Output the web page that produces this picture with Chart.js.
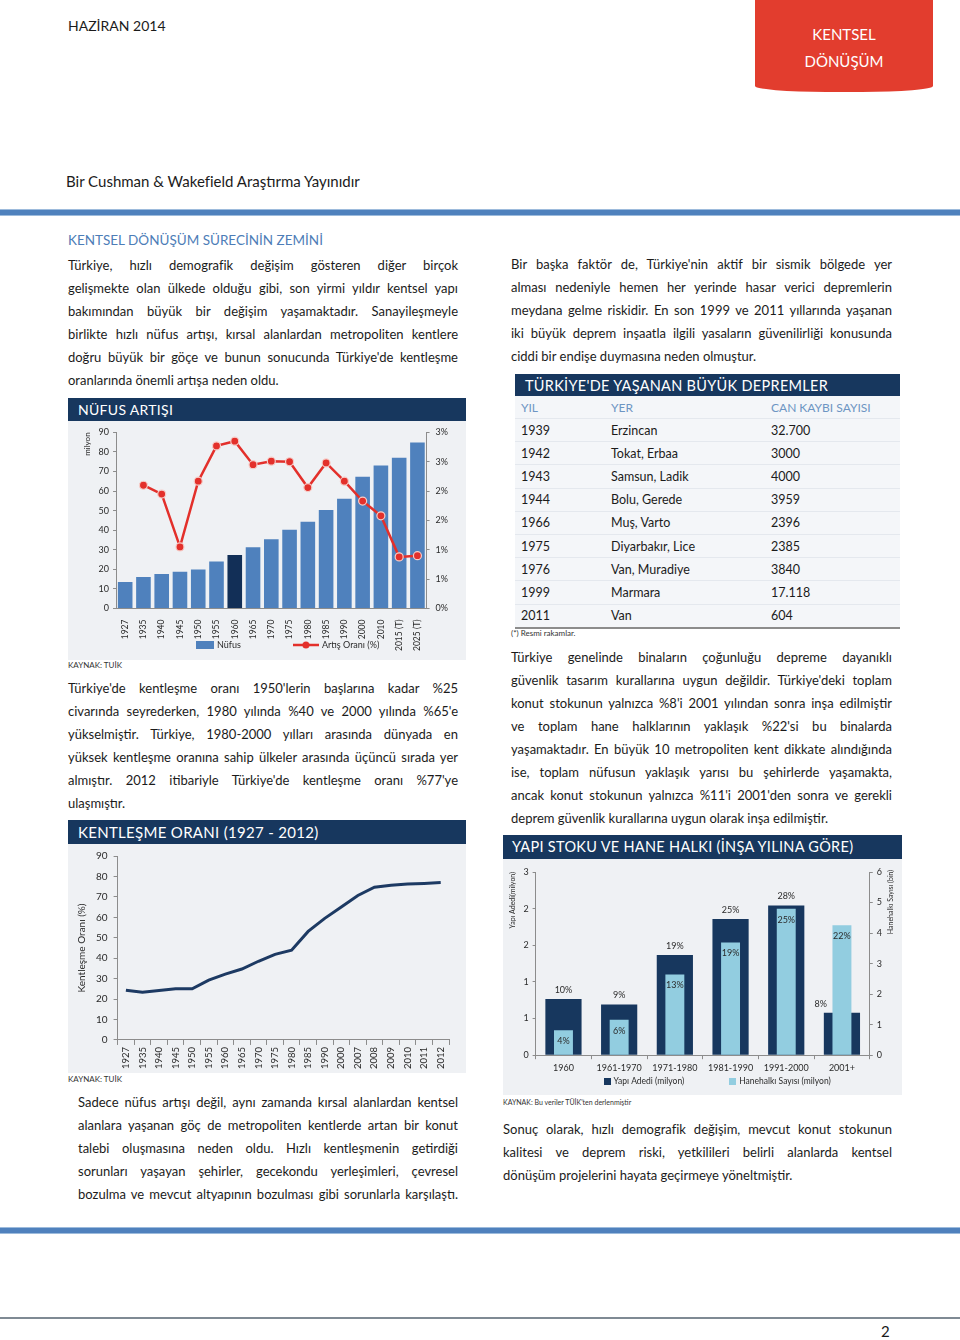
<!DOCTYPE html>
<html lang="tr">
<head>
<meta charset="utf-8">
<title>Kentsel Dönüşüm - Haziran 2014</title>
<script src="https://cdn.jsdelivr.net/npm/chart.js@4.4.1/dist/chart.umd.min.js"></script>
<style>
body { margin:0; width:960px; height:1340px; position:relative; background:#fff; font-family: Lato, 'Open Sans', sans-serif; color:#1b1b1b; overflow:hidden; }
.para { position:absolute; font-size:13px; }
.para div { height:23px; line-height:23px; text-align:justify; text-align-last:justify; }
.para div.last { text-align-last:left; }
.head-bar { position:absolute; background:#17375e; color:#fff; height:23px; line-height:24px; font-size:14px; padding-left:10px; box-sizing:border-box; letter-spacing:0.3px; }
.chart-box { position:absolute; background:#eff1f4; }
.chart-box canvas { display:block; }
.source { position:absolute; font-size:8px; color:#333; }
.rule { position:absolute; left:0; width:960px; height:5px; background:#4f81bd; border-top:1px solid #9dbbdc; border-bottom:1px solid #9dbbdc; }
table.quakes { position:absolute; left:515px; top:396px; width:385px; border-collapse:collapse; background:#f4f6f9; font-size:12.5px; border-bottom:2px solid #8c8c8c; }
table.quakes td { height:22.2px; padding:0 0 0 6px; border-top:1px solid #e4e8ee; }
table.quakes tr.th td { height:22px; color:#6d95c3; border-top:none; font-size:12px; }
</style>
</head>
<body>

<div style="position:absolute;left:68px;top:17px;font-size:14px;">HAZİRAN 2014</div>
<div style="position:absolute;left:755px;top:0;width:178px;height:92px;background:#e23d2e;color:#fff;font-size:15px;text-align:center;border-radius:0 0 40% 40% / 0 0 6px 6px;">
  <div style="margin-top:21px;line-height:27px;">KENTSEL<br>DÖNÜŞÜM</div>
</div>
<div style="position:absolute;left:66px;top:172px;font-size:15px;">Bir Cushman &amp; Wakefield Araştırma Yayınıdır</div>
<div class="rule" style="top:209px;"></div>

<div style="position:absolute;left:68px;top:232px;font-size:13.5px;color:#4d7db7;">KENTSEL DÖNÜŞÜM SÜRECİNİN ZEMİNİ</div>
<div class="para" style="left:68px;top:254px;width:390px;">
  <div>Türkiye, hızlı demografik değişim gösteren diğer birçok</div>
  <div>gelişmekte olan ülkede olduğu gibi, son yirmi yıldır kentsel yapı</div>
  <div>bakımından büyük bir değişim yaşamaktadır. Sanayileşmeyle</div>
  <div>birlikte hızlı nüfus artışı, kırsal alanlardan metropoliten kentlere</div>
  <div>doğru büyük bir göçe ve bunun sonucunda Türkiye'de kentleşme</div>
  <div class="last">oranlarında önemli artışa neden oldu.</div>
</div>

<div class="head-bar" style="left:68px;top:398px;width:398px;">NÜFUS ARTIŞI</div>
<div class="chart-box" style="left:68px;top:421px;width:398px;height:239px;"><canvas id="popChart" width="398" height="239"></canvas></div>
<div class="source" style="left:68px;top:660px;">KAYNAK: TUİK</div>

<div class="para" style="left:68px;top:677px;width:390px;">
  <div>Türkiye'de kentleşme oranı 1950'lerin başlarına kadar %25</div>
  <div>civarında seyrederken, 1980 yılında %40 ve 2000 yılında %65'e</div>
  <div>yükselmiştir. Türkiye, 1980-2000 yılları arasında dünyada en</div>
  <div>yüksek kentleşme oranına sahip ülkeler arasında üçüncü sırada yer</div>
  <div>almıştır. 2012 itibariyle Türkiye'de kentleşme oranı %77'ye</div>
  <div class="last">ulaşmıştır.</div>
</div>

<div class="head-bar" style="left:68px;top:820px;width:398px;height:24px;font-size:15px;">KENTLEŞME ORANI (1927 - 2012)</div>
<div class="chart-box" style="left:68px;top:844px;width:398px;height:229px;"><canvas id="urbanChart" width="398" height="229"></canvas></div>
<div class="source" style="left:68px;top:1074px;">KAYNAK: TUİK</div>

<div class="para" style="left:78px;top:1091px;width:380px;">
  <div>Sadece nüfus artışı değil, aynı zamanda kırsal alanlardan kentsel</div>
  <div>alanlara yaşanan göç de metropoliten kentlerde artan bir konut</div>
  <div>talebi oluşmasına neden oldu. Hızlı kentleşmenin getirdiği</div>
  <div>sorunları yaşayan şehirler, gecekondu yerleşimleri, çevresel</div>
  <div>bozulma ve mevcut altyapının bozulması gibi sorunlarla karşılaştı.</div>
</div>

<div class="para" style="left:511px;top:253px;width:381px;">
  <div>Bir başka faktör de, Türkiye'nin aktif bir sismik bölgede yer</div>
  <div>alması nedeniyle hemen her yerinde hasar verici depremlerin</div>
  <div>meydana gelme riskidir. En son 1999 ve 2011 yıllarında yaşanan</div>
  <div>iki büyük deprem inşaatla ilgili yasaların güvenilirliği konusunda</div>
  <div class="last">ciddi bir endişe duymasına neden olmuştur.</div>
</div>

<div class="head-bar" style="left:515px;top:374px;width:385px;height:22px;line-height:23px;font-size:14.5px;">TÜRKİYE'DE YAŞANAN BÜYÜK DEPREMLER</div>
<table class="quakes">
  <colgroup><col style="width:90px"><col style="width:160px"><col></colgroup>
  <tr class="th"><td>YIL</td><td>YER</td><td>CAN KAYBI SAYISI</td></tr>
  <tr><td>1939</td><td>Erzincan</td><td>32.700</td></tr>
  <tr><td>1942</td><td>Tokat, Erbaa</td><td>3000</td></tr>
  <tr><td>1943</td><td>Samsun, Ladik</td><td>4000</td></tr>
  <tr><td>1944</td><td>Bolu, Gerede</td><td>3959</td></tr>
  <tr><td>1966</td><td>Muş, Varto</td><td>2396</td></tr>
  <tr><td>1975</td><td>Diyarbakır, Lice</td><td>2385</td></tr>
  <tr><td>1976</td><td>Van, Muradiye</td><td>3840</td></tr>
  <tr><td>1999</td><td>Marmara</td><td>17.118</td></tr>
  <tr><td>2011</td><td>Van</td><td>604</td></tr>
</table>
<div class="source" style="left:511px;top:628px;">(*) Resmi rakamlar.</div>

<div class="para" style="left:511px;top:646px;width:381px;">
  <div>Türkiye genelinde binaların çoğunluğu depreme dayanıklı</div>
  <div>güvenlik tasarım kurallarına uygun değildir. Türkiye'deki toplam</div>
  <div>konut stokunun yalnızca %8'i 2001 yılından sonra inşa edilmiştir</div>
  <div>ve toplam hane halklarının yaklaşık %22'si bu binalarda</div>
  <div>yaşamaktadır. En büyük 10 metropoliten kent dikkate alındığında</div>
  <div>ise, toplam nüfusun yaklaşık yarısı bu şehirlerde yaşamakta,</div>
  <div>ancak konut stokunun yalnızca %11'i 2001'den sonra ve gerekli</div>
  <div class="last">deprem güvenlik kurallarına uygun olarak inşa edilmiştir.</div>
</div>

<div class="head-bar" style="left:503px;top:835px;width:399px;height:24px;font-size:14.5px;padding-left:9px;">YAPI STOKU VE HANE HALKI (İNŞA YILINA GÖRE)</div>
<div class="chart-box" style="left:503px;top:859px;width:399px;height:236px;"><canvas id="stockChart" width="399" height="236"></canvas></div>
<div class="source" style="left:503px;top:1098px;font-size:7px;">KAYNAK: Bu veriler TÜİK'ten derlenmiştir</div>

<div class="para" style="left:503px;top:1118px;width:389px;">
  <div>Sonuç olarak, hızlı demografik değişim, mevcut konut stokunun</div>
  <div>kalitesi ve deprem riski, yetkilileri belirli alanlarda kentsel</div>
  <div class="last">dönüşüm projelerini hayata geçirmeye yöneltmiştir.</div>
</div>

<div class="rule" style="top:1227px;"></div>
<div style="position:absolute;left:0;top:1317px;width:960px;height:2px;background:#7f8a94;"></div>
<div style="position:absolute;left:881px;top:1322px;font-size:15px;">2</div>

<script>
// Nüfus artışı
const popYears = ['1927','1935','1940','1945','1950','1955','1960','1965','1970','1975','1980','1985','1990','2000','2010','2015 (T)','2025 (T)'];
const popMillions = [13.5,16.1,17.7,18.8,20.0,24.0,27.3,31.3,35.4,40.3,44.4,50.3,56.1,67.4,73.1,77.1,84.9];
const growthPct = [null,2.10,1.95,1.05,2.17,2.77,2.85,2.45,2.51,2.50,2.06,2.48,2.17,1.83,1.58,0.88,0.90];
const popHighlightYear = '1960';

// Kentleşme oranı
const urbanYears = ['1927','1935','1940','1945','1950','1955','1960','1965','1970','1975','1980','1985','1990','2000','2007','2008','2009','2010','2011','2012'];
const urbanRate = [24.3,23.4,24.2,25.0,25.0,29.3,32.2,34.7,38.5,41.9,43.9,53.1,59.5,65.1,70.7,74.7,75.7,76.3,76.6,77.0];

// Yapı stoku ve hane halkı
const buildPeriods = ['1960','1961-1970','1971-1980','1981-1990','1991-2000','2001+'];
const buildingsMillion = [0.92,0.83,1.64,2.23,2.45,0.695];
const householdsMillion = [0.82,1.16,2.64,3.69,4.80,4.26];
const buildingsShare = ['10%','9%','19%','25%','28%','8%'];
const householdsShare = ['4%','6%','13%','19%','25%','22%'];

Chart.defaults.font.family = 'Lato';
Chart.defaults.color = '#2b2b2b';
Chart.defaults.animation = false;

const axisGray = '#8c8c8c';
const steelBlue = '#4f81bd';
const navy = '#17375e';
const lightBlue = '#92cde0';
const red = '#e3302b';

function legendIcon(kind, color) {
    const c = document.createElement('canvas');
    c.width = kind === 'line' ? 26 : (kind === 'bar' ? 18 : 7);
    c.height = kind === 'line' ? 10 : (kind === 'bar' ? 8 : 7);
    const g = c.getContext('2d');
    g.fillStyle = color;
    if (kind === 'line') {
        g.strokeStyle = color;
        g.lineWidth = 2.5;
        g.beginPath(); g.moveTo(0, 5); g.lineTo(26, 5); g.stroke();
        g.beginPath(); g.arc(13, 5, 3.5, 0, Math.PI * 2); g.fill();
    } else {
        g.fillRect(0, 0, c.width, c.height);
    }
    return c;
}

// legend drawn under the plot, in the free space beside the long tick labels
const inlineLegend = {
    id: 'inlineLegend',
    afterDraw(chart, args, opts) {
        const ctx = chart.ctx;
        ctx.save();
        ctx.font = opts.font;
        ctx.fillStyle = '#2b2b2b';
        ctx.textBaseline = 'middle';
        let x = chart.chartArea.left + opts.offset;
        const y = chart.height - opts.bottom;
        chart.data.datasets.forEach((ds, i) => {
            const icon = opts.icons[i];
            ctx.drawImage(icon, x, Math.round(y - icon.height / 2));
            x += icon.width + 3;
            ctx.fillText(ds.label, x, y);
            x += ctx.measureText(ds.label).width + opts.gap;
        });
        ctx.restore();
    }
};

new Chart(document.getElementById('popChart'), {
    type: 'bar',
    data: {
        labels: popYears,
        datasets: [{
                type: 'bar',
                label: 'Nüfus',
                data: popMillions,
                backgroundColor: popYears.map(y => y === popHighlightYear ? '#122f57' : steelBlue),
                yAxisID: 'y',
                order: 1,
                barPercentage: 0.8,
                categoryPercentage: 1
            },
            {
                type: 'line',
                label: 'Artış Oranı (%)',
                data: growthPct,
                yAxisID: 'y1',
                order: 0,
                borderColor: red,
                borderWidth: 2.5,
                pointRadius: 4,
                pointBackgroundColor: red,
                pointBorderColor: '#f6cdc8',
                pointBorderWidth: 1.2
            }]
    },
    options: {
        responsive: false,
        layout: { padding: { left: 13, right: 12, top: 10, bottom: 6 } },
        plugins: {
            tooltip: { enabled: false },
            legend: { display: false },
            inlineLegend: {
                font: '9px Lato', offset: 80, bottom: 15, gap: 52,
                icons: [legendIcon('bar', steelBlue), legendIcon('line', red)]
            }
        },
        scales: {
            x: {
                grid: { display: false },
                border: { color: axisGray },
                ticks: { minRotation: 90, maxRotation: 90, autoSkip: false, font: { size: 8.5 }, padding: 3 }
            },
            y: {
                min: 0, max: 90,
                ticks: { stepSize: 10, font: { size: 9 }, padding: 4 },
                grid: { drawOnChartArea: false, tickLength: 3, color: axisGray },
                border: { color: axisGray },
                title: { display: true, text: 'milyon', align: 'end', font: { size: 8 }, padding: 2 }
            },
            y1: {
                position: 'right',
                min: 0, max: 3,
                ticks: { stepSize: 0.5, font: { size: 9 }, padding: 6, callback: v => Math.round(v) + '%' },
                grid: { drawOnChartArea: false, tickLength: 3, color: axisGray },
                border: { color: axisGray }
            }
        }
    },
    plugins: [inlineLegend]
});

new Chart(document.getElementById('urbanChart'), {
    type: 'line',
    data: {
        labels: urbanYears,
        datasets: [{
            label: 'Kentleşme Oranı (%)',
            data: urbanRate,
            borderColor: '#1d3a63',
            borderWidth: 3,
            pointRadius: 0
        }]
    },
    options: {
        responsive: false,
        layout: { padding: { left: 6, right: 17, top: 10, bottom: 2 } },
        plugins: { legend: { display: false }, tooltip: { enabled: false } },
        scales: {
            x: {
                offset: true,
                grid: { offset: true, drawOnChartArea: false, tickLength: 5, color: axisGray },
                border: { color: axisGray },
                ticks: { minRotation: 90, maxRotation: 90, autoSkip: false, font: { size: 9.5 }, padding: 2 }
            },
            y: {
                min: 0, max: 90,
                ticks: { stepSize: 10, font: { size: 10 }, padding: 6 },
                grid: { drawOnChartArea: false, tickLength: 4, color: axisGray },
                border: { color: axisGray },
                title: { display: true, text: 'Kentleşme Oranı (%)', font: { size: 10 }, padding: 2 }
            }
        }
    }
});

// percentage labels on the building stock bars and the right axis title
const stockLabels = {
    id: 'stockLabels',
    afterDatasetsDraw(chart) {
        const ctx = chart.ctx;
        const dark = chart.getDatasetMeta(0).data;
        const light = chart.getDatasetMeta(1).data;
        ctx.save();
        ctx.font = '9px Lato';
        ctx.fillStyle = '#2b2b2b';
        ctx.textAlign = 'center';
        ctx.textBaseline = 'middle';
        dark.forEach((bar, i) => {
            let x = bar.x;
            if (light[i].y < bar.y) x = bar.x - bar.width / 2 - 3;
            ctx.fillText(buildingsShare[i], x, bar.y - 9);
        });
        light.forEach((bar, i) => {
            ctx.fillText(householdsShare[i], bar.x, bar.y + 11);
        });
        ctx.font = '7px Lato';
        ctx.translate(chart.width - 11, chart.chartArea.top + 30);
        ctx.rotate(-Math.PI / 2);
        ctx.fillText('Hanehalkı Sayısı (bin)', 0, 0);
        ctx.restore();
    }
};

new Chart(document.getElementById('stockChart'), {
    type: 'bar',
    data: {
        labels: buildPeriods,
        datasets: [{
                label: 'Yapı Adedi (milyon)',
                data: buildingsMillion,
                backgroundColor: navy,
                yAxisID: 'y',
                order: 1,
                grouped: false,
                barPercentage: 0.65,
                categoryPercentage: 1
            },
            {
                label: 'Hanehalkı Sayısı (milyon)',
                data: householdsMillion,
                backgroundColor: lightBlue,
                yAxisID: 'y1',
                order: 0,
                grouped: false,
                barPercentage: 0.34,
                categoryPercentage: 1
            }]
    },
    options: {
        responsive: false,
        layout: { padding: { left: 4, right: 16, top: 13, bottom: 19 } },
        plugins: {
            tooltip: { enabled: false },
            legend: { display: false },
            inlineLegend: {
                font: '8.5px Lato', offset: 68, bottom: 14, gap: 45,
                icons: [legendIcon('square', navy), legendIcon('square', lightBlue)]
            }
        },
        scales: {
            x: {
                grid: { offset: true, drawOnChartArea: false, tickLength: 4, color: axisGray },
                border: { color: axisGray },
                ticks: { font: { size: 9 }, padding: 3 }
            },
            y: {
                min: 0, max: 3,
                ticks: { stepSize: 0.6, font: { size: 9 }, padding: 4, callback: v => Math.round(v) },
                grid: { drawOnChartArea: false, tickLength: 3, color: axisGray },
                border: { color: axisGray },
                title: { display: true, text: 'Yapı Adedi(milyon)', align: 'end', font: { size: 7 }, padding: 2 }
            },
            y1: {
                position: 'right',
                min: 0, max: 6,
                ticks: { stepSize: 1, font: { size: 9 }, padding: 4 },
                grid: { drawOnChartArea: false, tickLength: 3, color: axisGray },
                border: { color: axisGray }
            }
        }
    },
    plugins: [stockLabels, inlineLegend]
});
</script>
</body>
</html>
